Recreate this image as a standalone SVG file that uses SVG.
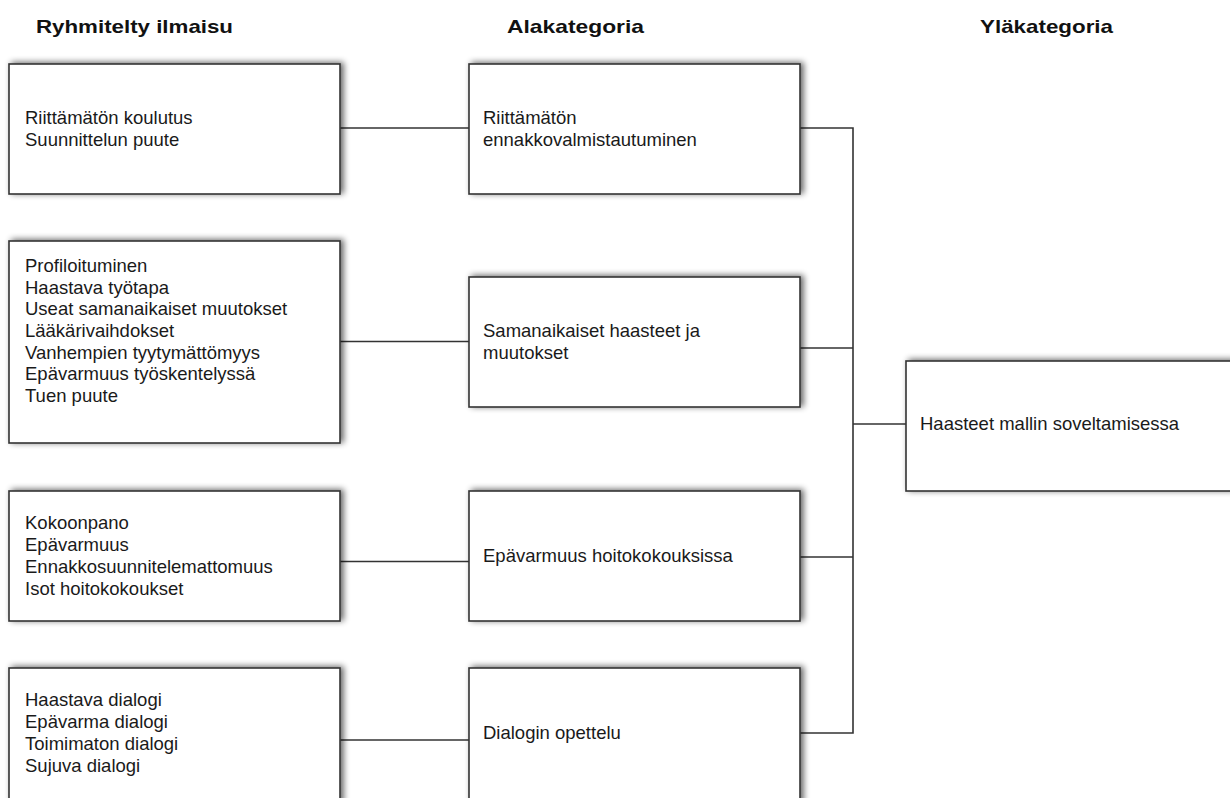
<svg xmlns="http://www.w3.org/2000/svg" width="1230" height="798" viewBox="0 0 1230 798">
<style>
.box{fill:#fff;stroke:#333;stroke-width:1.6;filter:url(#sh)}
.t{font-family:"Liberation Sans",Arial,sans-serif;font-size:18.5px;fill:#1a1a1a}
.h{font-family:"Liberation Sans",Arial,sans-serif;font-size:19px;font-weight:bold;fill:#111}
.c{fill:none;stroke:#333;stroke-width:1.6}
</style>
<defs>
<filter id="sh" x="-10%" y="-20%" width="125%" height="140%">
<feGaussianBlur in="SourceAlpha" stdDeviation="3"/>
<feOffset dx="3" dy="-1" result="b"/>
<feComponentTransfer><feFuncA type="linear" slope="0.6"/></feComponentTransfer>
<feMerge><feMergeNode/><feMergeNode in="SourceGraphic"/></feMerge>
</filter>
</defs>
<rect width="1230" height="798" fill="#fff"/>
<g id="headers">
<text class="h" x="36" y="33" textLength="197" lengthAdjust="spacingAndGlyphs">Ryhmitelty ilmaisu</text>
<text class="h" x="507" y="33" textLength="137" lengthAdjust="spacingAndGlyphs">Alakategoria</text>
<text class="h" x="980" y="33" textLength="133" lengthAdjust="spacingAndGlyphs">Yläkategoria</text>
</g>
<g id="connectors">
<line class="c" x1="340" y1="128" x2="469" y2="128"/>
<line class="c" x1="340" y1="341.5" x2="469" y2="341.5"/>
<line class="c" x1="340" y1="561.5" x2="469" y2="561.5"/>
<line class="c" x1="340" y1="740" x2="469" y2="740"/>
<polyline class="c" points="800,128 853,128 853,733 800,733"/>
<line class="c" x1="800" y1="348" x2="853" y2="348"/>
<line class="c" x1="800" y1="557" x2="853" y2="557"/>
<line class="c" x1="853" y1="424" x2="906" y2="424"/>
</g>
<g id="n1">
<rect class="box" x="9" y="64" width="331" height="130"/>
<text class="t" x="25" y="124">Riittämätön koulutus</text>
<text class="t" x="25" y="146">Suunnittelun puute</text>
</g>
<g id="n2">
<rect class="box" x="9" y="241" width="331" height="202"/>
<text class="t" x="25" y="272">Profiloituminen</text>
<text class="t" x="25" y="293.7">Haastava työtapa</text>
<text class="t" x="25" y="315.3">Useat samanaikaiset muutokset</text>
<text class="t" x="25" y="337">Lääkärivaihdokset</text>
<text class="t" x="25" y="358.7">Vanhempien tyytymättömyys</text>
<text class="t" x="25" y="380.3">Epävarmuus työskentelyssä</text>
<text class="t" x="25" y="402">Tuen puute</text>
</g>
<g id="n3">
<rect class="box" x="9" y="491" width="331" height="130"/>
<text class="t" x="25" y="529">Kokoonpano</text>
<text class="t" x="25" y="550.7">Epävarmuus</text>
<text class="t" x="25" y="573.3">Ennakkosuunnitelemattomuus</text>
<text class="t" x="25" y="595">Isot hoitokokoukset</text>
</g>
<g id="n4">
<rect class="box" x="9" y="668" width="331" height="136"/>
<text class="t" x="25" y="706">Haastava dialogi</text>
<text class="t" x="25" y="728.3">Epävarma dialogi</text>
<text class="t" x="25" y="750">Toimimaton dialogi</text>
<text class="t" x="25" y="771.7">Sujuva dialogi</text>
</g>
<g id="m1">
<rect class="box" x="469" y="64" width="331" height="130"/>
<text class="t" x="483" y="124">Riittämätön</text>
<text class="t" x="483" y="146">ennakkovalmistautuminen</text>
</g>
<g id="m2">
<rect class="box" x="469" y="277" width="331" height="130"/>
<text class="t" x="483" y="337.3">Samanaikaiset haasteet ja</text>
<text class="t" x="483" y="359.3">muutokset</text>
</g>
<g id="m3">
<rect class="box" x="469" y="491" width="331" height="130"/>
<text class="t" x="483" y="561.7">Epävarmuus hoitokokouksissa</text>
</g>
<g id="m4">
<rect class="box" x="469" y="668" width="331" height="136"/>
<text class="t" x="483" y="739.3">Dialogin opettelu</text>
</g>
<g id="top">
<rect class="box" x="906" y="361" width="331" height="130"/>
<text class="t" x="920" y="430">Haasteet mallin soveltamisessa</text>
</g>
</svg>
